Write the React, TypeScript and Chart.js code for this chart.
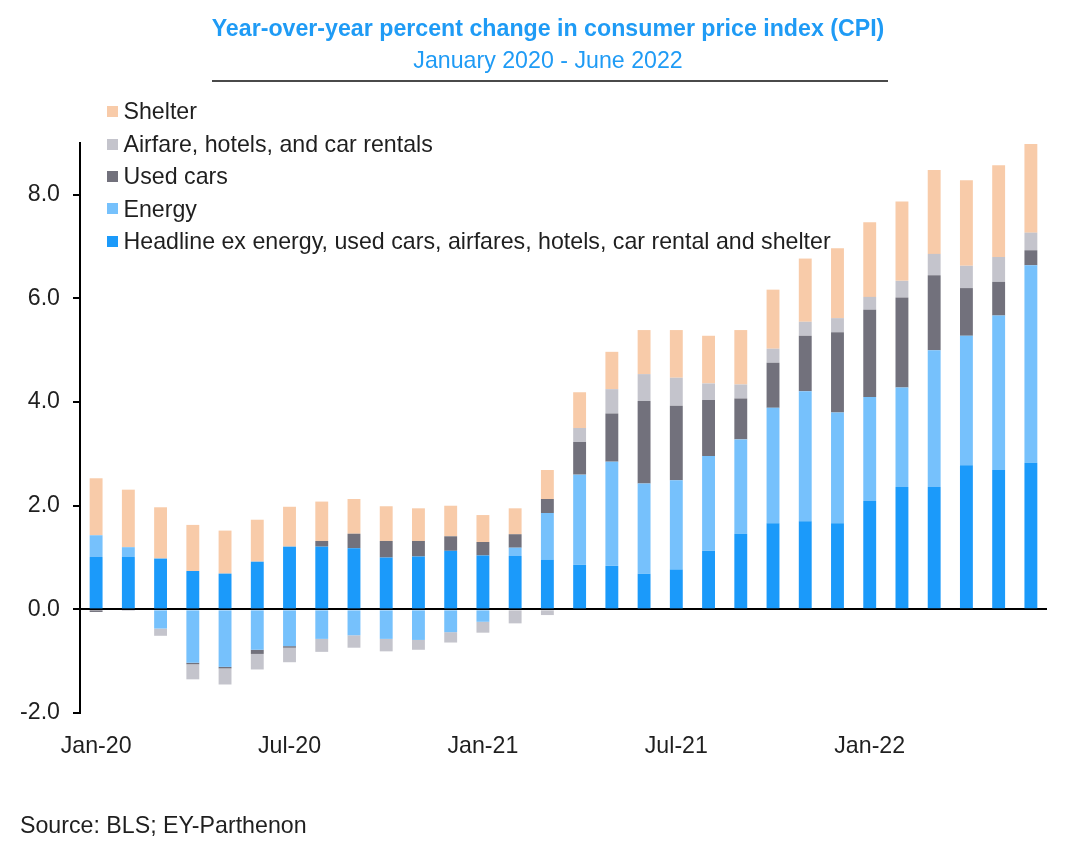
import React, { useEffect, useRef } from "react";
import { Chart, registerables } from "chart.js";

Chart.register(...registerables);

const FONT = "'Liberation Sans', Arial, sans-serif";
const TEXT = "#1f1f1f";
const TITLE_BLUE = "#1f9bf5";
const FS = 23.2;

const months = [
  "Jan-20", "Feb-20", "Mar-20", "Apr-20", "May-20", "Jun-20",
  "Jul-20", "Aug-20", "Sep-20", "Oct-20", "Nov-20", "Dec-20",
  "Jan-21", "Feb-21", "Mar-21", "Apr-21", "May-21", "Jun-21",
  "Jul-21", "Aug-21", "Sep-21", "Oct-21", "Nov-21", "Dec-21",
  "Jan-22", "Feb-22", "Mar-22", "Apr-22", "May-22", "Jun-22",
];

const shownMonthLabels = ["Jan-20", "Jul-20", "Jan-21", "Jul-21", "Jan-22"];

const headline = [1.01, 1.01, 0.98, 0.74, 0.69, 0.92, 1.21, 1.21, 1.18, 1.0, 1.02, 1.13, 1.04, 1.03, 0.96, 0.86, 0.84, 0.69, 0.77, 1.13, 1.46, 1.66, 1.7, 1.66, 2.09, 2.36, 2.36, 2.78, 2.69, 2.83];
const energy = [0.42, 0.19, -0.37, -1.03, -1.11, -0.78, -0.71, -0.57, -0.5, -0.57, -0.59, -0.44, -0.24, 0.16, 0.9, 1.74, 2.01, 1.74, 1.72, 1.83, 1.82, 2.23, 2.51, 2.14, 2.01, 1.92, 2.64, 2.5, 2.98, 3.81];
const usedCars = [-0.05, 0, 0, -0.03, -0.03, -0.08, -0.03, 0.11, 0.28, 0.32, 0.3, 0.28, 0.26, 0.26, 0.27, 0.63, 0.93, 1.59, 1.44, 1.08, 0.79, 0.87, 1.07, 1.55, 1.68, 1.74, 1.45, 0.92, 0.65, 0.29];
const airfare = [0, -0.03, -0.14, -0.29, -0.31, -0.3, -0.28, -0.25, -0.24, -0.24, -0.19, -0.2, -0.21, -0.27, -0.11, 0.27, 0.47, 0.52, 0.54, 0.32, 0.27, 0.27, 0.27, 0.27, 0.25, 0.32, 0.41, 0.43, 0.48, 0.34];
const shelter = [1.1, 1.11, 0.99, 0.89, 0.83, 0.81, 0.77, 0.76, 0.67, 0.67, 0.63, 0.59, 0.52, 0.5, 0.56, 0.69, 0.72, 0.85, 0.92, 0.92, 1.05, 1.14, 1.22, 1.35, 1.44, 1.53, 1.62, 1.65, 1.77, 1.71];

const seriesNames = [
  "Headline ex energy, used cars, airfares, hotels, car rental and shelter",
  "Energy",
  "Used cars",
  "Airfare, hotels, and car rentals",
  "Shelter",
];
const seriesColors = ["#1b9afa", "#76c1fc", "#72717c", "#c4c4cc", "#f8cba9"];
const seriesValues = [headline, energy, usedCars, airfare, shelter];

const yMin = -2;
const yMax = 9;
const yStep = 2;

const titleText = "Year-over-year percent change in consumer price index (CPI)";
const subtitleText = "January 2020 - June 2022";
const sourceText = "Source: BLS; EY-Parthenon";

export default function App() {
  const canvasRef = useRef<HTMLCanvasElement | null>(null);

  useEffect(() => {
    const canvas = canvasRef.current;
    if (!canvas) return;
    const chart = new Chart(canvas, {
      type: "bar",
      data: {
        labels: months,
        datasets: seriesNames.map((name, i) => ({
          label: name,
          data: seriesValues[i],
          backgroundColor: seriesColors[i],
          borderWidth: 0,
          stack: "cpi",
          categoryPercentage: 1,
          barPercentage: 0.4,
        })),
      },
      options: {
        responsive: false,
        animation: false,
        devicePixelRatio: 1,
        layout: { padding: { left: 0, right: 45, top: 143, bottom: 68 } },
        plugins: {
          legend: { display: false },
          title: { display: false },
          tooltip: { enabled: false },
        },
        scales: {
          x: {
            type: "category",
            stacked: true,
            offset: true,
            grid: { display: false },
            border: { display: false },
            ticks: {
              autoSkip: false,
              maxRotation: 0,
              minRotation: 0,
              padding: 12,
              color: TEXT,
              font: { family: FONT, size: FS },
              callback: (_v: any, idx: number) =>
                shownMonthLabels.includes(months[idx]) ? months[idx] : "",
            },
            afterFit: (scale: any) => {
              scale.height = 70;
            },
          },
          y: {
            stacked: true,
            min: yMin,
            max: yMax,
            z: 1,
            grid: {
              display: true,
              drawOnChartArea: true,
              drawTicks: true,
              tickLength: 7,
              lineWidth: 2,
              tickWidth: 2,
              tickColor: "#000",
              color: (ctx: any) =>
                ctx.tick && ctx.tick.value === 0 ? "#000" : "rgba(0,0,0,0)",
            },
            border: { display: true, color: "#000", width: 2 },
            ticks: {
              stepSize: yStep,
              includeBounds: false,
              padding: 13,
              color: TEXT,
              font: { family: FONT, size: FS },
              callback: (v: any) => Number(v).toFixed(1),
            },
            afterFit: (scale: any) => {
              scale.width = 80;
            },
          },
        },
      },
    } as any);
    return () => chart.destroy();
  }, []);

  const legendOrder = [4, 3, 2, 1, 0];

  return (
    <div
      style={{
        position: "absolute",
        left: 0,
        top: 0,
        width: 1092,
        height: 851,
        background: "#fff",
        overflow: "hidden",
        fontFamily: FONT,
      }}
    >
      <canvas
        ref={canvasRef}
        width={1092}
        height={851}
        style={{ position: "absolute", left: 0, top: 0, width: 1092, height: 851, display: "block" }}
      />
      <div
        style={{
          position: "absolute",
          left: 0,
          width: 1096,
          top: 17,
          textAlign: "center",
          fontSize: FS,
          lineHeight: "23px",
          fontWeight: "bold",
          color: TITLE_BLUE,
          whiteSpace: "nowrap",
        }}
      >
        {titleText}
      </div>
      <div
        style={{
          position: "absolute",
          left: 0,
          width: 1096,
          top: 49,
          textAlign: "center",
          fontSize: FS,
          lineHeight: "23px",
          color: TITLE_BLUE,
          whiteSpace: "nowrap",
        }}
      >
        {subtitleText}
      </div>
      <div
        style={{
          position: "absolute",
          left: 212,
          width: 676,
          top: 80,
          height: 2,
          background: "#4a4a4a",
        }}
      />
      {legendOrder.map((si, row) => {
        const center = 111.5 + row * 32.4;
        return (
          <div
            key={si}
            style={{
              position: "absolute",
              left: 107,
              top: center - 11.2,
              height: 23,
              whiteSpace: "nowrap",
            }}
          >
            <span
              style={{
                position: "absolute",
                left: 0,
                top: 11.2 - 5.3,
                width: 11,
                height: 11,
                background: seriesColors[si],
              }}
            />
            <span
              style={{
                position: "absolute",
                left: 16.5,
                top: 0,
                fontSize: FS,
                lineHeight: "23px",
                color: TEXT,
              }}
            >
              {seriesNames[si]}
            </span>
          </div>
        );
      })}
      <div
        style={{
          position: "absolute",
          left: 20,
          top: 813.5,
          fontSize: FS,
          lineHeight: "23px",
          color: TEXT,
          whiteSpace: "nowrap",
        }}
      >
        {sourceText}
      </div>
    </div>
  );
}
